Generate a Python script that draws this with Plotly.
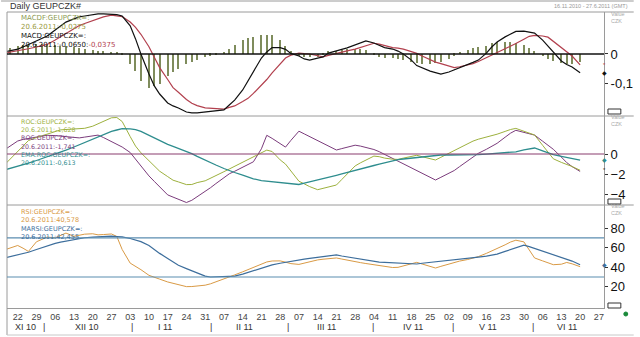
import pandas as pd
import plotly.graph_objects as go

# ---------------- data ----------------
dates = pd.bdate_range("2010-11-17", "2011-06-20", freq="C", weekmask="Mon Wed Fri")

macd = [0.007, 0.010, 0.017, 0.024, 0.033, 0.045, 0.053, 0.062, 0.083, 0.097,
        0.110, 0.121, 0.128, 0.131, 0.136, 0.138, 0.138, 0.138, 0.136, 0.131,
        0.097, 0.052, 0.000, -0.069, -0.110, -0.138, -0.169, -0.179, -0.186, -0.200,
        -0.203, -0.203, -0.200, -0.198, -0.197, -0.193, -0.176, -0.159, -0.124, -0.093,
        -0.059, -0.014, 0.007, 0.022, 0.022, 0.016, 0.002, -0.007, -0.017, -0.021,
        -0.014, -0.010, 0.003, 0.012, 0.016, 0.021, 0.031, 0.038, 0.045, 0.038,
        0.031, 0.022, 0.017, 0.010, 0.000, -0.021, -0.040, -0.048, -0.059, -0.064,
        -0.069, -0.062, -0.055, -0.048, -0.038, -0.029, -0.021, 0.003, 0.024, 0.041,
        0.059, 0.069, 0.078, 0.079, 0.076, 0.072, 0.048, 0.028, 0.007, -0.024,
        -0.036, -0.045, -0.065]

macd_signal = [0.003, 0.006, 0.010, 0.013, 0.018, 0.024, 0.029, 0.033, 0.048, 0.059,
               0.070, 0.087, 0.098, 0.105, 0.116, 0.123, 0.128, 0.134, 0.132, 0.129,
               0.110, 0.092, 0.068, 0.025, -0.011, -0.047, -0.088, -0.116, -0.132, -0.157,
               -0.170, -0.178, -0.186, -0.187, -0.188, -0.190, -0.184, -0.179, -0.164, -0.153,
               -0.136, -0.109, -0.088, -0.065, -0.033, -0.014, -0.004, 0.003, 0.001, 0.000,
               -0.006, -0.010, -0.005, 0.003, 0.007, 0.011, 0.017, 0.023, 0.030, 0.037,
               0.034, 0.029, 0.022, 0.020, 0.017, 0.008, 0.002, -0.007, -0.019, -0.028,
               -0.033, -0.042, -0.047, -0.044, -0.038, -0.033, -0.026, -0.013, -0.005, 0.004,
               0.018, 0.027, 0.036, 0.051, 0.061, 0.064, 0.062, 0.058, 0.043, 0.023,
               0.008, -0.007, -0.0375]

macd_hist = [0.014, 0.021, 0.029, 0.031, 0.032, 0.034, 0.034, 0.033, 0.031, 0.029,
             0.027, 0.024, 0.020, 0.017, 0.014, 0.012, 0.010, 0.008, 0.005, -0.001,
             -0.033, -0.060, -0.092, -0.116, -0.109, -0.102, -0.076, -0.061, -0.050, -0.036,
             -0.029, -0.021, -0.011, -0.006, -0.002, 0.007, 0.016, 0.032, 0.049, 0.054,
             0.060, 0.065, 0.066, 0.065, 0.047, 0.027, 0.010, -0.006, -0.009, -0.010,
             -0.009, -0.002, 0.009, 0.012, 0.014, 0.016, 0.017, 0.017, 0.015, -0.002,
             -0.010, -0.013, -0.014, -0.016, -0.019, -0.027, -0.031, -0.033, -0.033, -0.031,
             -0.026, -0.016, -0.006, 0.006, 0.015, 0.019, 0.023, 0.029, 0.037, 0.041,
             0.041, 0.041, 0.039, 0.031, 0.019, 0.010, -0.007, -0.017, -0.024, -0.032,
             -0.034, -0.034, -0.0275]

roc_a = [-1.10, -0.56, 0.25, 0.79, 1.34, 1.65, 1.83, 2.01, 2.28, 2.41,
         2.45, 2.50, 2.54, 2.57, 2.78, 3.02, 3.26, 3.62, 3.65, 3.25,
         1.74, 0.79, 0.12, -0.69, -1.24, -1.72, -2.26, -2.62, -2.79, -3.06,
         -3.05, -2.86, -2.68, -2.44, -2.18, -1.77, -1.50, -1.23, -0.83, -0.56,
         -0.28, 0.12, 0.39, 0.25, -0.59, -1.01, -1.73, -2.72, -2.99, -3.26,
         -3.57, -3.44, -3.30, -3.10, -2.55, -2.01, -1.19, -0.88, -0.60, -0.21,
         -0.27, -0.41, -0.52, -0.54, -0.41, -0.21, -0.13, -0.27, -0.47, -0.60,
         -0.33, 0.08, 0.35, 0.62, 1.03, 1.29, 1.48, 1.69, 1.82, 1.98,
         2.26, 2.45, 2.56, 2.27, 2.09, 1.90, 0.87, 0.20, -0.48, -0.84,
         -1.02, -1.25, -1.628]

roc_b = [0.40, 0.76, 1.30, 1.46, 1.55, 1.69, 1.78, 1.87, 1.84, 1.78,
         1.73, 1.65, 1.61, 1.69, 1.81, 1.89, 1.65, 1.24, 0.97, 0.70,
         0.15, -0.53, -1.20, -2.19, -2.74, -3.28, -4.09, -4.31, -4.53, -4.85,
         -4.63, -4.28, -3.75, -3.37, -2.96, -2.36, -1.98, -1.73, -1.33, -1.05,
         -0.78, 0.52, 1.87, 1.56, 1.04, 0.69, 1.36, 2.28, 2.01, 1.74,
         1.34, 1.07, 0.80, 0.40, 0.54, 0.67, 0.88, 0.79, 0.65, 0.45,
         0.23, -0.04, -0.45, -0.72, -0.99, -1.39, -1.66, -1.93, -2.34, -2.60,
         -2.33, -1.92, -1.65, -1.26, -0.66, -0.25, 0.07, 0.47, 0.74, 1.07,
         1.68, 2.08, 2.37, 2.17, 2.03, 1.89, 1.28, 0.88, 0.47, -0.31,
         -0.86, -1.26, -1.741]

roc_ema = [-1.60, -1.46, -1.26, -1.12, -0.92, -0.65, -0.47, -0.29, -0.02, 0.17,
           0.39, 0.70, 0.92, 1.14, 1.49, 1.73, 1.97, 2.27, 2.40, 2.53,
           2.52, 2.44, 2.26, 1.85, 1.58, 1.33, 0.96, 0.76, 0.56, 0.31,
           0.04, -0.23, -0.63, -0.90, -1.10, -1.45, -1.67, -1.85, -2.12, -2.30,
           -2.48, -2.66, -2.72, -2.79, -2.89, -2.96, -3.03, -3.05, -2.92, -2.80,
           -2.61, -2.48, -2.35, -2.13, -1.99, -1.84, -1.62, -1.49, -1.35, -1.15,
           -1.02, -0.88, -0.68, -0.57, -0.50, -0.40, -0.34, -0.27, -0.17, -0.10,
           -0.10, -0.10, -0.10, -0.10, -0.10, -0.10, -0.07, -0.01, 0.03, 0.07,
           0.13, 0.17, 0.22, 0.41, 0.51, 0.60, 0.31, 0.12, -0.07, -0.23,
           -0.32, -0.42, -0.613]

rsi = [57.7, 59.5, 62.3, 59.5, 56.2, 66.1, 68.9, 70.9, 70.1, 72.2,
       75.0, 71.7, 72.8, 73.9, 74.3, 73.2, 73.5, 74.1, 71.6, 58.2,
       44.2, 40.9, 37.5, 31.7, 29.5, 27.8, 24.9, 23.6, 22.1, 20.1,
       20.2, 20.8, 21.6, 23.0, 24.9, 27.7, 29.8, 32.1, 35.3, 37.6,
       39.8, 43.1, 45.4, 46.4, 46.5, 45.2, 43.7, 42.9, 44.4, 45.7,
       47.5, 48.2, 48.7, 49.5, 48.4, 47.2, 45.6, 44.7, 43.8, 42.6,
       41.8, 40.9, 39.7, 39.9, 41.5, 44.0, 45.0, 43.3, 40.9, 39.2,
       40.9, 43.3, 45.1, 46.3, 47.9, 49.1, 50.9, 54.2, 56.5, 58.8,
       63.0, 65.8, 67.7, 66.0, 58.2, 49.5, 46.5, 44.6, 42.6, 43.1,
       44.9, 43.5, 40.578]

rsi_ma = [49.5, 50.8, 53.0, 54.1, 55.4, 58.2, 60.2, 62.2, 64.5, 65.7,
          66.8, 68.4, 69.5, 70.2, 70.8, 71.2, 71.6, 71.8, 71.5, 71.2,
          69.5, 67.8, 66.2, 62.2, 58.0, 54.2, 49.0, 45.4, 42.0, 38.6,
          36.5, 34.3, 30.9, 30.0, 30.2, 30.5, 30.7, 30.9, 32.9, 34.7,
          36.7, 39.4, 41.3, 42.4, 44.1, 45.2, 46.2, 47.7, 48.4, 49.0,
          50.1, 50.8, 51.5, 52.6, 51.5, 50.6, 49.2, 48.2, 47.2, 45.8,
          45.2, 45.0, 44.6, 44.3, 44.0, 43.6, 43.3, 44.1, 44.9, 45.4,
          46.1, 47.0, 47.5, 48.1, 49.1, 49.7, 50.4, 51.4, 52.2, 53.4,
          56.2, 58.0, 59.8, 62.6, 61.1, 59.3, 56.5, 54.7, 52.9, 50.0,
          48.2, 46.3, 42.455]

rsi_levels = [30, 70]

macd_ticks = [0, -0.1]
macd_ticktext = ["0", "-0,1"]
roc_ticks = [0, -2, -4]
rsi_ticks = [20, 40, 60, 80]

month_labels = ["XI 10", "XII 10", "I 11", "II 11", "III 11", "IV 11", "V 11", "VI 11"]
month_label_dates = ["2010-11-25", "2010-12-18", "2011-01-16", "2011-02-14 18:00",
                     "2011-03-17 10:00", "2011-04-18 14:00", "2011-05-16 16:00", "2011-06-15"]
month_sep_dates = ["2010-12-01 16:00", "2011-01-03 14:00", "2011-02-02", "2011-03-02 22:00",
                   "2011-04-03 20:00", "2011-05-03 10:00", "2011-06-02 10:00"]

for s in (macd, macd_signal, macd_hist, roc_a, roc_b, roc_ema, rsi, rsi_ma):
    assert len(s) == len(dates), (len(s), len(dates))

# ---------------- layout helpers ----------------
W, H = 640, 337
L, R, T, B = 7, 30, 12, 29
PW, PH = W - L - R, H - T - B


def px(x):
    return (x - L) / PW


def py(y):
    return (H - B - y) / PH


FONT = "Liberation Sans, Arial, sans-serif"
LFONT = "DejaVu Sans, Verdana, sans-serif"
C_MACD = "#111111"
C_SIG = "#b2404e"
C_HIST = "#7f8c5c"
C_ROCA = "#9db13e"
C_ROCB = "#7b3c7c"
C_EMA = "#2e8d8e"
C_ZERO2 = "#8a3d6e"
C_RSI = "#d99a45"
C_RSIMA = "#3d6e9c"
C_LVL = "#5b8db0"
C_FRAME = "#9a9a9a"

fig = go.Figure()

# MACD panel (y3)
fig.add_trace(go.Bar(x=dates, y=macd_hist, marker_color=C_HIST, marker_line_width=0,
                     width=0.45 * 86400000, xaxis="x", yaxis="y3"))
fig.add_trace(go.Scatter(x=dates, y=macd_signal, mode="lines", line=dict(color=C_SIG, width=1.2),
                         xaxis="x", yaxis="y3"))
fig.add_trace(go.Scatter(x=dates, y=macd, mode="lines", line=dict(color=C_MACD, width=1.2),
                         xaxis="x", yaxis="y3"))
# ROC panel (y2)
fig.add_trace(go.Scatter(x=dates, y=roc_b, mode="lines", line=dict(color=C_ROCB, width=1),
                         xaxis="x", yaxis="y2"))
fig.add_trace(go.Scatter(x=dates, y=roc_a, mode="lines", line=dict(color=C_ROCA, width=1),
                         xaxis="x", yaxis="y2"))
fig.add_trace(go.Scatter(x=dates, y=roc_ema, mode="lines", line=dict(color=C_EMA, width=1.3),
                         xaxis="x", yaxis="y2"))
# RSI panel (y)
fig.add_trace(go.Scatter(x=dates, y=rsi, mode="lines", line=dict(color=C_RSI, width=1),
                         xaxis="x", yaxis="y"))
fig.add_trace(go.Scatter(x=dates, y=rsi_ma, mode="lines", line=dict(color=C_RSIMA, width=1.2),
                         xaxis="x", yaxis="y"))

d1, d2 = py(205), py(116)
yax_common = dict(side="right", anchor="x", showgrid=False, zeroline=False, showline=True,
                  linecolor=C_FRAME, linewidth=1, ticks="outside", ticklen=3, tickcolor="#333",
                  tickfont=dict(family=FONT, size=13, color="#111"), fixedrange=True)

shapes = []
annotations = []

# frame lines
shapes.append(dict(type="line", xref="paper", yref="paper", x0=px(1), x1=px(W), y0=py(1), y1=py(1),
                   line=dict(color=C_FRAME, width=1)))
for yy in (12, 116, 205):
    shapes.append(dict(type="line", xref="paper", yref="paper", x0=px(L), x1=px(W), y0=py(yy), y1=py(yy),
                       line=dict(color=C_FRAME, width=1)))
shapes.append(dict(type="line", xref="paper", yref="paper", x0=px(L), x1=px(L), y0=py(12), y1=py(335),
                   line=dict(color=C_FRAME, width=1)))
shapes.append(dict(type="line", xref="paper", yref="paper", x0=px(L), x1=px(W), y0=py(335), y1=py(335),
                   line=dict(color="#c8c8c8", width=1)))

# reference levels
shapes.append(dict(type="line", xref="paper", yref="y3", x0=0, x1=1, y0=0, y1=0,
                   line=dict(color="#111", width=1.3)))
shapes.append(dict(type="line", xref="paper", yref="y2", x0=0, x1=1, y0=0, y1=0,
                   line=dict(color=C_ZERO2, width=1.2)))
for lv in rsi_levels:
    shapes.append(dict(type="line", xref="paper", yref="y", x0=0, x1=1, y0=lv, y1=lv,
                       line=dict(color=C_LVL, width=1.2)))

# small panel buttons
for yy in (111, 201, 305):
    shapes.append(dict(type="rect", xref="paper", yref="paper", x0=px(614), x1=px(627),
                       y0=py(yy + 3), y1=py(yy - 2), line=dict(color="#333", width=1), fillcolor="white"))
shapes.append(dict(type="circle", xref="paper", yref="paper", x0=px(630), x1=px(634),
                   y0=py(316), y1=py(312), line=dict(color="#1a8a3a", width=1), fillcolor="#1a8a3a"))


def txt(x, y, s, color, size=8, anchor="left", yanchor="middle", family=FONT):
    annotations.append(dict(x=px(x), y=py(y), xref="paper", yref="paper", text=s, showarrow=False,
                            xanchor=anchor, yanchor=yanchor, align="left",
                            font=dict(family=family, size=size, color=color)))


def block(x, ytop, lines, size):
    body = "<br>".join("<span style='color:%s'>%s</span>" % (c, s) for s, c in lines)
    txt(x, ytop, body, "#111", size, "left", "top", LFONT)


txt(8, 6, "Daily GEUPCZK#", "#333", 9)
txt(636, 6, "16.11.2010 - 27.6.2011 (GMT)", "#999", 5.5, "right")
for y0 in (17, 121, 210):
    txt(615, y0, "Value<br>CZK", "#aaa", 5.5, "left", "middle")

# panel legends
block(19, 12, [("MACDF:GEUPCZK=:", "#8c9a52"),
               ("20.6.2011:-0,0275", "#9a9a40"),
               ("MACD:GEUPCZK=:", "#111"),
               ("20.6.2011:-0,0650:<span style='color:%s'>-0,0375</span>" % C_SIG, "#111")], 7)
block(19, 116, [("ROC:GEUPCZK=:", C_ROCA),
                ("20.6.2011:-1,628", C_ROCA),
                ("ROC:GEUPCZK=:", C_ROCB),
                ("20.6.2011:-1,741", C_ROCB),
                ("EMA:ROC:GEUPCZK=:", C_EMA),
                ("20.6.2011:-0,613", C_EMA)], 6.3)
block(19, 206, [("RSI:GEUPCZK=:", C_RSI),
                ("20.6.2011:40,578", C_RSI),
                ("MARSI:GEUPCZK=:", C_RSIMA),
                ("20.6.2011:42,455", C_RSIMA)], 6.5)

# last value markers sitting on the right axis line
for val, ax, sym, col in ((macd_signal[-1], "y3", "*", C_SIG), (macd[-1], "y3", "◆", "#111"),
                          (roc_ema[-1], "y2", "◆", C_EMA), (roc_a[-1], "y2", "*", "#333"),
                          (rsi_ma[-1], "y", "◆", C_RSIMA)):
    annotations.append(dict(x=1.0, y=val, xref="paper", yref=ax, text=sym, showarrow=False,
                            xanchor="center", yanchor="middle", font=dict(family=FONT, size=6, color=col)))

# month labels
for d, s in zip(month_label_dates, month_labels):
    annotations.append(dict(x=d, y=py(327), xref="x", yref="paper", text=s, showarrow=False,
                            xanchor="center", yanchor="middle", font=dict(family=FONT, size=9, color="#333")))
for d in month_sep_dates:
    annotations.append(dict(x=d, y=py(327), xref="x", yref="paper", text="|", showarrow=False,
                            xanchor="center", yanchor="middle", font=dict(family=FONT, size=9, color="#333")))

fig.update_layout(
    width=W, height=H, margin=dict(l=L, r=R, t=T, b=B),
    paper_bgcolor="white", plot_bgcolor="white", showlegend=False, bargap=0,
    xaxis=dict(type="date", range=["2010-11-18", "2011-06-28 22:00"], anchor="y",
               tick0="2010-11-22", dtick=7 * 86400000, tickformat="%d",
               showgrid=False, zeroline=False, showline=True, linecolor=C_FRAME,
               ticks="", tickfont=dict(family=FONT, size=9, color="#444"), fixedrange=True),
    yaxis=dict(domain=[0, d1], range=[-1.8, 103.8], tickvals=rsi_ticks, **yax_common),
    yaxis2=dict(domain=[d1, d2], range=[-5.1, 3.8], tickvals=roc_ticks, **yax_common),
    yaxis3=dict(domain=[d2, 1], range=[-0.2138, 0.1448], tickvals=macd_ticks, ticktext=macd_ticktext,
                **yax_common),
    shapes=shapes, annotations=annotations,
)

fig.write_html("out.html")
